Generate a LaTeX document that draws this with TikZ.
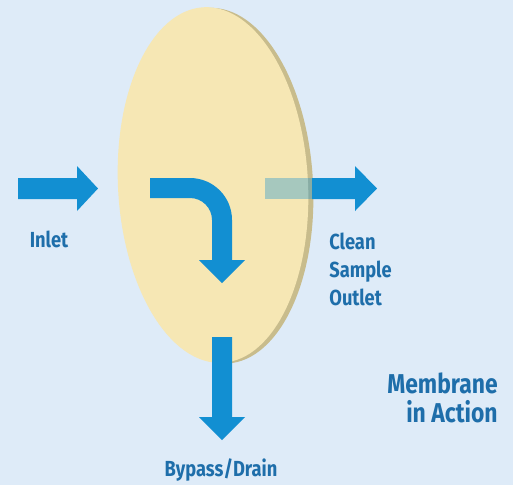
\documentclass[tikz,border=0pt]{standalone}
\usepackage{fontspec}
\setmainfont{Fira Sans}[FakeStretch=0.84]
\usepackage{xcolor}
\usepackage{tikz}
\usetikzlibrary{calc}
\definecolor{bgblue}{RGB}{222,235,248}
\definecolor{flowblue}{RGB}{18,143,210}
\definecolor{lblblue}{RGB}{30,110,170}
\definecolor{disc}{RGB}{246,231,180}
\definecolor{discedge}{RGB}{200,188,140}
\tikzset{
  flow/.style={fill=flowblue},
  lbl/.style={text=lblblue, inner sep=0pt, font=\bfseries\fontsize{12.4}{15.8}\selectfont},
}

\begin{document}
\begin{tikzpicture}[x=0.02cm,y=-0.02cm]
\fill[bgblue] (0,0) rectangle (513,485);
\coordinate (O) at (213,185);
\fill[discedge, rotate around={3:(O)}] ($(O)+(5,1)$) ellipse [x radius=95, y radius=178];
\fill[disc, rotate around={3:(O)}] (O) ellipse [x radius=95, y radius=178];
\foreach \a/\b/\c in {18/77/98, 312/355/377}{
    \fill[flow] (\a,178) -- (\b,178) -- (\b,166) -- (\c,188.5) -- (\b,211) -- (\b,199) -- (\a,199) -- cycle;
}
\fill[flowblue, opacity=0.35] (265,178) rectangle (312,199);
\fill[flow] (150,178) -- (190,178) arc [start angle=-90, end angle=0, radius=42] -- (232,260) -- (245,260) -- (222,283) -- (199,260) -- (212,260) -- (212,220) arc [start angle=0, end angle=-90, radius=22] -- (150,198) -- cycle;
\fill[flow] (212,337) -- (232,337) -- (232,417) -- (245,417) -- (222,440) -- (199,417) -- (212,417) -- cycle;
\node[lbl, anchor=base] (inlet) at (49,247) {Inlet};
\node[lbl, anchor=north west, align=left] (outlet) at (329,233) {Clean\\Sample\\Outlet};
\node[lbl, anchor=base] (drain) at (221,476) {Bypass/Drain};
\node[lbl, anchor=north east, align=right, font=\bfseries\fontsize{15.5}{16.8}\selectfont] (title) at (498,372) {Membrane\\in Action};
\end{tikzpicture}
\end{document}
